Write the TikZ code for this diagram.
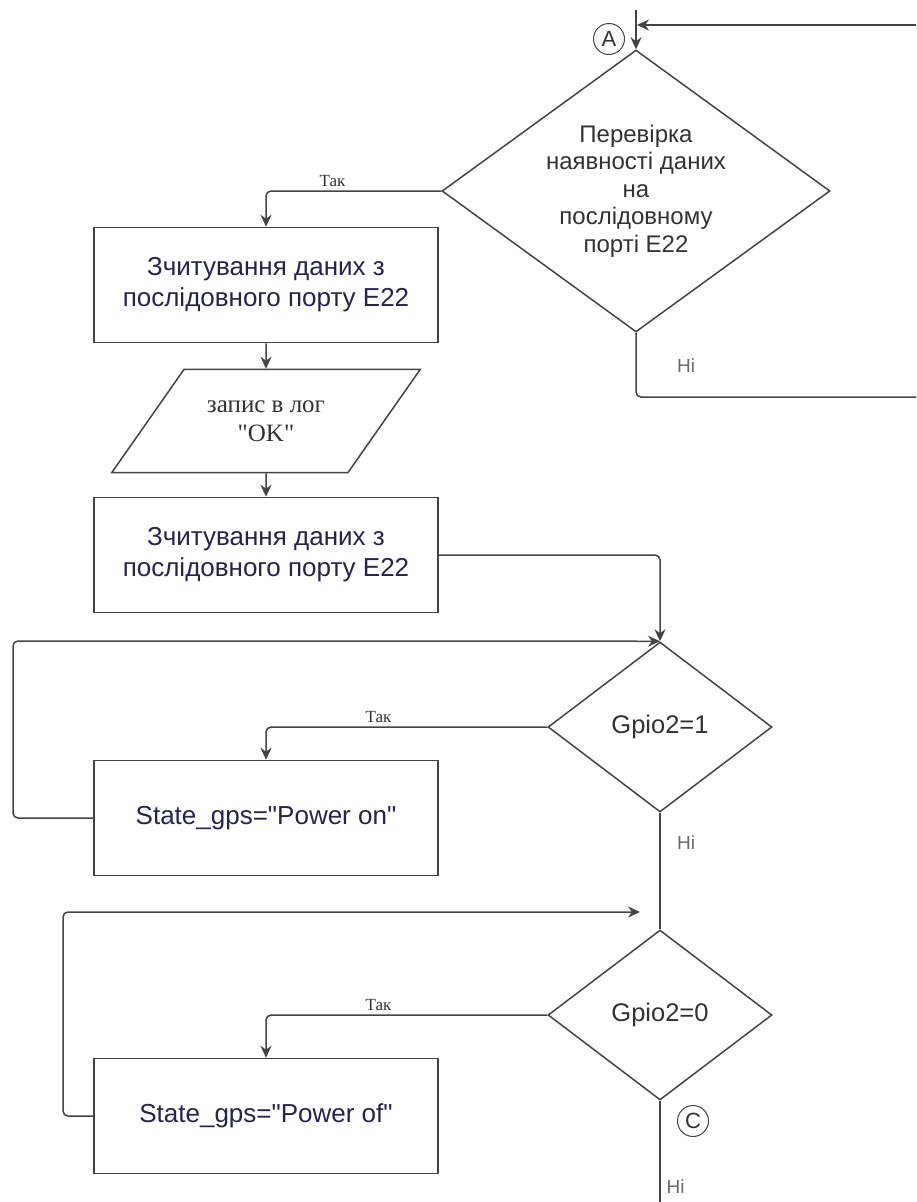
\documentclass[tikz,border=0pt]{standalone}
\usepackage{fontspec}
\newfontfamily\sansf{Liberation Sans}
\newfontfamily\seriff{Liberation Serif}
\usepackage{tikz}
\usetikzlibrary{shapes.geometric, arrows.meta, positioning}
\definecolor{myline}{RGB}{68,68,68}
\definecolor{mynavy}{RGB}{35,35,85}
\definecolor{mytext}{RGB}{50,50,50}
\definecolor{mylabel}{RGB}{105,105,105}
\tikzset{
  procbox/.style={rectangle, draw=myline, line width=1.5pt,
    minimum width=344pt, minimum height=115pt, align=center,
    text=mynavy, font=\sansf\fontsize{26}{31}\selectfont},
  decision/.style={diamond, draw=myline, line width=1.5pt, inner sep=0pt,
    align=center, text=mytext, font=\sansf\fontsize{24}{27.5}\selectfont},
  iobox/.style={trapezium, trapezium left angle=55, trapezium right angle=125,
    draw=myline, line width=1.5pt, inner xsep=23pt, inner ysep=31pt,
    align=center, text=mytext, font=\seriff\fontsize{25}{29}\selectfont},
  conn/.style={circle, draw=myline, line width=1pt, inner sep=0pt,
    minimum size=31pt, text=mytext, font=\sansf\fontsize{22}{22}\selectfont},
  arrow/.style={-{Stealth[length=12pt,width=11pt]}, line width=1.5pt,
    color=myline, rounded corners=5pt},
  line/.style={line width=1.5pt, color=myline, rounded corners=5pt},
  yeslbl/.style={text=mytext, font=\seriff\fontsize{17}{17}\selectfont},
  nolbl/.style={text=mylabel, font=\sansf\fontsize{19}{19}\selectfont}
}
\begin{document}
\begin{tikzpicture}[x=1pt, y=1pt]
  \useasboundingbox (0,0) rectangle (916,-1202);

  % Check for data on the serial port
  \node[decision, minimum width=388pt, minimum height=282pt, aspect=1.38] (chk) at (636,-191)
    {Перевірка\\наявності даних\\на\\послідовному\\порті E22};
  \node[conn] (conA) at (609,-39) {A};
  \coordinate (entry) at (636,-10);
  \coordinate (retin) at (916,-25);
  \coordinate (retend) at (637,-25);
  \draw[arrow] (entry) -- (chk.north);
  \draw[arrow] (retin) -- (retend);

  % No data: back to A
  \coordinate (noend) at (916,-397);
  \draw[line] (chk.south) |- (noend);
  \node[nolbl] (no1) at (686,-366) {Ні};

  % Read and log
  \node[procbox] (read1) at (266,-285) {Зчитування даних з\\послідовного порту E22};
  \node[iobox] (log) at (266,-421) {запис в лог\\"OK"};
  \node[procbox] (read2) at (266,-555) {Зчитування даних з\\послідовного порту E22};
  \draw[arrow] (chk.west) -| node[pos=0.31, above, yeslbl] {Так} (read1.north);
  \draw[arrow] (read1.south) -- (log.north);
  \draw[arrow] (log.south) -- (read2.north);

  % Gpio2=1
  \node[decision, minimum width=224pt, minimum height=170pt, font=\sansf\fontsize{25.5}{28}\selectfont] (gon) at (660,-727) {Gpio2=1};
  \node[procbox] (pwron) at (266,-818) {State\_gps="Power on"};
  \draw[arrow] (read2.east) -| (gon.north);
  \draw[arrow] (gon.west) -| node[pos=0.3, above, yeslbl] {Так} (pwron.north);
  \coordinate (loopon) at (13,-641);
  \draw[arrow] (pwron.west) -| (loopon) -- (gon.north);
  \node[nolbl] (no2) at (686,-843) {Ні};

  % Gpio2=0
  \node[decision, minimum width=224pt, minimum height=170pt, font=\sansf\fontsize{25.5}{28}\selectfont] (goff) at (660,-1015) {Gpio2=0};
  \node[procbox] (pwroff) at (266,-1116) {State\_gps="Power of"};
  \draw[line] (gon.south) -- (goff.north);
  \draw[arrow] (goff.west) -| node[pos=0.3, above, yeslbl] {Так} (pwroff.north);
  \coordinate (loopoff) at (63,-912);
  \coordinate (loopoffend) at (640,-912);
  \draw[arrow] (pwroff.west) -| (loopoff) -- (loopoffend);

  % Exit to C
  \coordinate (exit) at (660,-1202);
  \draw[line] (goff.south) -- (exit);
  \node[conn] (conC) at (693,-1121) {C};
  \node[nolbl, anchor=west] (no3) at (663,-1187) {Ні};
\end{tikzpicture}
\end{document}
